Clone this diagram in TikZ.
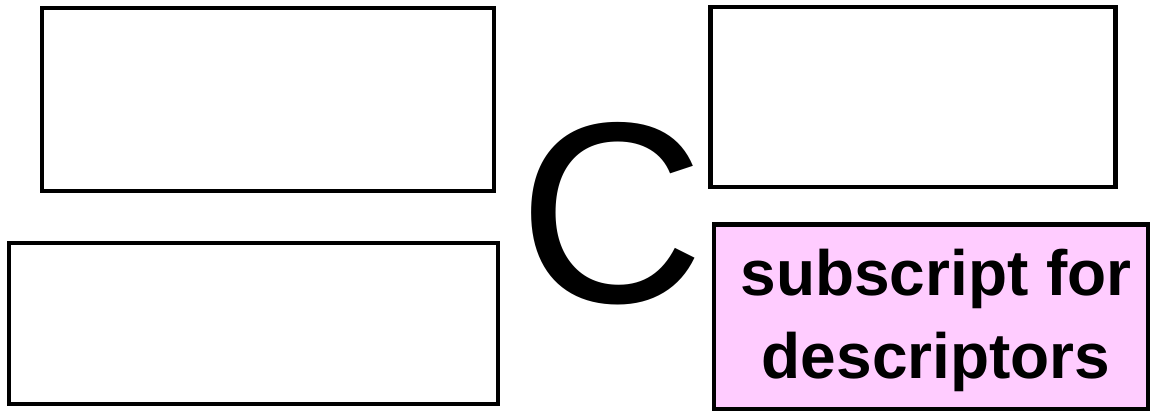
\documentclass[tikz,border=0pt]{standalone}
\usepackage{fontspec}
\setmainfont{Liberation Sans}
\usepackage{xcolor}
\usetikzlibrary{positioning}
\definecolor{kpink}{HTML}{FFCCFF}

\tikzset{
  blankbox/.style={draw=black, line width=4.5pt, inner sep=0pt},
}

\begin{document}
\begin{tikzpicture}[x=1pt, y=-1pt]
  \useasboundingbox (0,0) rectangle (1153,411);

  %% Left boxes
  \node[blankbox, minimum width=452pt, minimum height=183pt] (lefttop) at (268,99.5) {};
  \node[blankbox, minimum width=489pt, minimum height=161pt] (leftbot) at (253.5,323.5) {};

  %% Big letter
  \node[font=\fontsize{258}{258}\selectfont, inner sep=0pt] (bigc) at (612,214) {C};

  %% Right boxes
  \node[blankbox, minimum width=405pt, minimum height=180pt] (righttop) at (913,97) {};
  \node[blankbox, fill=kpink, minimum width=434pt, minimum height=185pt] (rightbot) at (931,317) {};
  \node[font=\fontsize{64}{83}\selectfont\bfseries, align=center, inner sep=0pt]
    (rightlabel) at ([xshift=5pt, yshift=-3pt]rightbot.center) {subscript for\\descriptors};

\end{tikzpicture}
\end{document}
